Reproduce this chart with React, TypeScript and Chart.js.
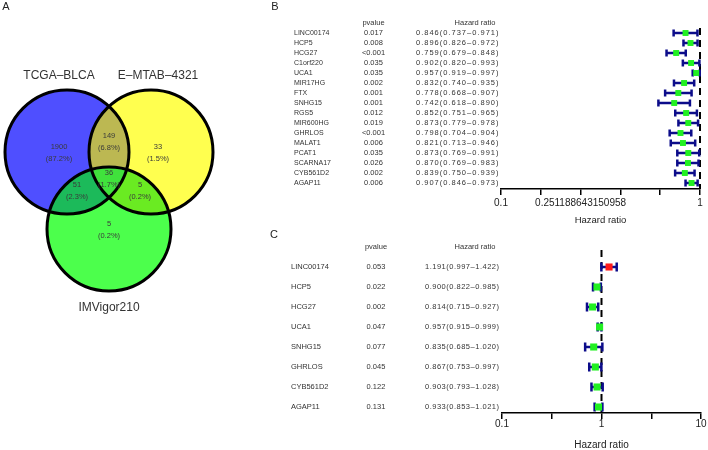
import React, { useEffect, useRef } from "react";
import { Chart, registerables } from "chart.js";

Chart.register(...registerables);

const FONT = "'Liberation Sans', Arial, Helvetica, sans-serif";
const TEXT = "#333333";
const NAVY = "#0c0c8a";
const GREEN = "#22f022";
const RED = "#ff1a1a";

// ---------------- Panel A: Venn data ----------------
const vennSetNames = ["TCGA–BLCA", "E–MTAB–4321", "IMVigor210"];
const vennRegionKeys = ["A", "B", "C", "AB", "AC", "BC", "ABC"];
const vennRegionCounts = [1900, 33, 5, 149, 51, 5, 36];

// ---------------- Panel B: univariate (training) ----------------
const genesB = ["LINC00174", "HCP5", "HCG27", "C1orf220", "UCA1", "MIR17HG", "FTX", "SNHG15", "RGS5", "MIR600HG", "GHRLOS", "MALAT1", "PCAT1", "SCARNA17", "CYB561D2", "AGAP11"];
const pvalB = ["0.017", "0.008", "<0.001", "0.035", "0.035", "0.002", "0.001", "0.001", "0.012", "0.019", "<0.001", "0.006", "0.035", "0.026", "0.002", "0.006"];
const hrB = [0.846, 0.896, 0.759, 0.902, 0.957, 0.832, 0.778, 0.742, 0.852, 0.873, 0.798, 0.821, 0.873, 0.870, 0.839, 0.907];
const lowB = [0.737, 0.826, 0.679, 0.820, 0.919, 0.740, 0.668, 0.618, 0.751, 0.779, 0.704, 0.713, 0.769, 0.769, 0.750, 0.846];
const highB = [0.971, 0.972, 0.848, 0.993, 0.997, 0.935, 0.907, 0.890, 0.965, 0.978, 0.904, 0.946, 0.991, 0.983, 0.939, 0.973];
const tickValsB = [0.1, 0.158489, 0.251188643150958, 0.398107, 0.630957, 1];
const tickLabelsB = ["0.1", "", "0.251188643150958", "", "", "1"];

// ---------------- Panel C: validation ----------------
const genesC = ["LINC00174", "HCP5", "HCG27", "UCA1", "SNHG15", "GHRLOS", "CYB561D2", "AGAP11"];
const pvalC = ["0.053", "0.022", "0.002", "0.047", "0.077", "0.045", "0.122", "0.131"];
const hrC = [1.191, 0.900, 0.814, 0.957, 0.835, 0.867, 0.903, 0.933];
const lowC = [0.997, 0.822, 0.715, 0.915, 0.685, 0.753, 0.793, 0.853];
const highC = [1.422, 0.985, 0.927, 0.999, 1.020, 0.997, 1.028, 1.021];
const tickValsC = [0.1, 0.316228, 1, 3.16228, 10];
const tickLabelsC = ["0.1", "", "1", "", "10"];

// ---------------- layout (not data) ----------------
const vennLayout = {
  circles: [[67, 152], [151, 152], [109, 229]],
  r: 62,
  setLabelPos: [[59, 76], [158, 76], [109, 308]],
  regionPos: [[59, 153], [158, 153], [109, 230], [109, 141.5], [77, 191], [140, 191], [109, 178.5]],
  fills: { A: "#4f4fff", B: "#ffff4f", C: "#4cff4c", AB: "#bcb852", AC: "#1cba5a", BC: "#6aeb22", ABC: "#40e23c" },
};

function vennPlugin() {
  return {
    id: "venn",
    afterDatasetsDraw(chart: any) {
      const { ctx, scales } = chart;
      const xs = scales.x, ys = scales.y;
      const px = (v: number) => xs.getPixelForValue(v);
      const py = (v: number) => ys.getPixelForValue(v);
      const rr = px(vennLayout.r) - px(0);
      const C = vennLayout.circles.map(([x, y]) => [px(x), py(y)]);
      const path = (i: number) => {
        const p = new Path2D();
        p.arc(C[i][0], C[i][1], rr, 0, Math.PI * 2);
        return p;
      };
      const F = vennLayout.fills;
      ctx.save();
      // singles
      ctx.fillStyle = F.A; ctx.fill(path(0));
      ctx.fillStyle = F.B; ctx.fill(path(1));
      ctx.fillStyle = F.C; ctx.fill(path(2));
      const inter = (clipIdx: number[], fillIdx: number, col: string) => {
        ctx.save();
        clipIdx.forEach((k) => ctx.clip(path(k)));
        ctx.fillStyle = col;
        ctx.fill(path(fillIdx));
        ctx.restore();
      };
      inter([0], 1, F.AB);
      inter([0], 2, F.AC);
      inter([1], 2, F.BC);
      inter([0, 1], 2, F.ABC);
      ctx.lineWidth = 3;
      ctx.strokeStyle = "#000";
      [0, 1, 2].forEach((i) => ctx.stroke(path(i)));

      // set labels
      ctx.fillStyle = TEXT;
      ctx.textAlign = "center";
      ctx.textBaseline = "middle";
      ctx.font = `12px ${FONT}`;
      vennSetNames.forEach((n, i) => {
        const [x, y] = vennLayout.setLabelPos[i];
        ctx.fillText(n, px(x), py(y));
      });
      // region labels
      const total = vennRegionCounts.reduce((a, b) => a + b, 0);
      ctx.font = `7.5px ${FONT}`;
      ctx.fillStyle = "#3a3a3a";
      vennRegionKeys.forEach((k, i) => {
        const [x, y] = vennLayout.regionPos[i];
        const c = vennRegionCounts[i];
        ctx.fillText(String(c), px(x), py(y) - 6);
        ctx.fillText(`(${((c / total) * 100).toFixed(1)}%)`, px(x), py(y) + 6);
      });
      // panel letter
      ctx.font = `11px ${FONT}`;
      ctx.fillStyle = "#222";
      ctx.fillText("A", 6, 7);
      ctx.restore();
    },
  };
}

type ForestOpts = {
  letter: string;
  letterPos: [number, number];
  genes: string[];
  pvals: string[];
  hr: number[];
  low: number[];
  high: number[];
  tickVals: number[];
  tickLabels: string[];
  xmin: number;
  xmax: number;
  ymin: number;
  ymax: number;
  padding: { left: number; right: number; top: number; bottom: number };
  scaleHeight: number;
  tickPad: number;
  titleSize: number;
  textX: { name: number; p: number; hr: number; hrHead: number };
  nameSize: number;
  pSize: number;
  hrSize: number;
  hrSpacing: string;
  capH: number;
  ptR: number;
  barW: number;
};

function forestConfig(o: ForestOpts): any {
  const plugin = {
    id: "forest",
    beforeDatasetsDraw(chart: any) {
      const { ctx, chartArea, scales } = chart;
      const x = scales.x, y = scales.y;
      ctx.save();
      const x1 = x.getPixelForValue(1);
      ctx.strokeStyle = "#000";
      ctx.lineWidth = 2;
      ctx.setLineDash([7, 5]);
      ctx.beginPath();
      ctx.moveTo(x1, chartArea.top);
      ctx.lineTo(x1, chartArea.bottom);
      ctx.stroke();
      ctx.setLineDash([]);
      ctx.strokeStyle = NAVY;
      ctx.lineWidth = o.barW;
      o.hr.forEach((_, i) => {
        const yy = y.getPixelForValue(i + 1);
        const a = x.getPixelForValue(o.low[i]);
        const b = x.getPixelForValue(o.high[i]);
        ctx.beginPath();
        ctx.moveTo(a, yy);
        ctx.lineTo(b, yy);
        ctx.moveTo(a, yy - o.capH);
        ctx.lineTo(a, yy + o.capH);
        ctx.moveTo(b, yy - o.capH);
        ctx.lineTo(b, yy + o.capH);
        ctx.stroke();
      });
      ctx.restore();
    },
    afterDraw(chart: any) {
      const { ctx, scales } = chart;
      const y = scales.y;
      ctx.save();
      ctx.fillStyle = TEXT;
      ctx.textBaseline = "middle";
      const yh = y.getPixelForValue(0);
      ctx.font = `${o.pSize}px ${FONT}`;
      ctx.textAlign = "center";
      ctx.fillText("pvalue", o.textX.p, yh);
      ctx.font = `${o.hrSize}px ${FONT}`;
      ctx.fillText("Hazard ratio", o.textX.hrHead, yh);
      o.genes.forEach((g, i) => {
        const yy = y.getPixelForValue(i + 1);
        ctx.textAlign = "left";
        ctx.font = `${o.nameSize}px ${FONT}`;
        ctx.fillText(g, o.textX.name, yy);
        ctx.textAlign = "center";
        ctx.font = `${o.pSize}px ${FONT}`;
        ctx.fillText(o.pvals[i], o.textX.p, yy);
        ctx.textAlign = "left";
        ctx.font = `${o.hrSize}px ${FONT}`;
        (ctx as any).letterSpacing = o.hrSpacing;
        ctx.fillText(`${o.hr[i].toFixed(3)}(${o.low[i].toFixed(3)}–${o.high[i].toFixed(3)})`, o.textX.hr, yy);
        (ctx as any).letterSpacing = "0px";
      });
      ctx.textAlign = "center";
      ctx.font = `11px ${FONT}`;
      ctx.fillStyle = "#222";
      ctx.fillText(o.letter, o.letterPos[0], o.letterPos[1]);
      ctx.restore();
    },
  };

  return {
    type: "scatter",
    data: {
      datasets: [
        {
          data: o.hr.map((v, i) => ({ x: v, y: i + 1 })),
          pointStyle: "rect",
          pointRadius: o.ptR,
          pointBorderWidth: 0,
          borderWidth: 0,
          backgroundColor: o.hr.map((v) => (v > 1 ? RED : GREEN)),
        },
      ],
    },
    options: {
      responsive: false,
      animation: false,
      events: [],
      layout: { padding: o.padding },
      plugins: { legend: { display: false }, tooltip: { enabled: false } },
      scales: {
        x: {
          type: "logarithmic",
          min: o.xmin,
          max: o.xmax,
          position: "bottom",
          afterBuildTicks: (s: any) => {
            s.ticks = o.tickVals.map((value) => ({ value }));
          },
          afterFit: (s: any) => {
            s.height = o.scaleHeight;
          },
          ticks: {
            autoSkip: false,
            maxRotation: 0,
            minRotation: 0,
            padding: o.tickPad,
            color: "#222",
            font: { size: 10, family: FONT, lineHeight: 1 },
            callback: (_v: any, i: number) => o.tickLabels[i],
          },
          grid: {
            drawOnChartArea: false,
            drawTicks: true,
            tickLength: 6,
            color: "#000",
            lineWidth: 1.5,
          },
          border: { display: true, color: "#000", width: 1.5 },
          title: {
            display: true,
            text: "Hazard ratio",
            color: "#222",
            font: { size: o.titleSize, family: FONT, lineHeight: 1 },
            padding: { top: 0, bottom: 0 },
          },
        },
        y: {
          type: "linear",
          min: o.ymin,
          max: o.ymax,
          reverse: true,
          display: false,
        },
      },
    },
    plugins: [plugin],
  };
}

function ChartCanvas({ config, left, top, width, height }: any) {
  const ref = useRef<HTMLCanvasElement | null>(null);
  useEffect(() => {
    if (!ref.current) return;
    const ch = new Chart(ref.current, config);
    return () => ch.destroy();
  }, []);
  return (
    <canvas
      ref={ref}
      width={width}
      height={height}
      style={{ position: "absolute", left, top, width, height }}
    />
  );
}

export default function App() {
  const vennConfig: any = {
    type: "scatter",
    data: {
      datasets: [
        {
          data: vennLayout.circles.map(([x, y]) => ({ x, y })),
          pointRadius: 0,
        },
      ],
    },
    options: {
      responsive: false,
      animation: false,
      events: [],
      layout: { padding: 0 },
      plugins: { legend: { display: false }, tooltip: { enabled: false } },
      scales: {
        x: { type: "linear", min: 0, max: 270, display: false },
        y: { type: "linear", min: 0, max: 330, reverse: true, display: false },
      },
    },
    plugins: [vennPlugin()],
  };

  const cfgB = forestConfig({
    letter: "B",
    letterPos: [5, 7],
    genes: genesB,
    pvals: pvalB,
    hr: hrB,
    low: lowB,
    high: highB,
    tickVals: tickValsB,
    tickLabels: tickLabelsB,
    xmin: 0.1,
    xmax: 1,
    ymin: 0.5,
    ymax: 16.6,
    padding: { left: 231, right: 8, top: 28, bottom: 5.25 },
    scaleHeight: 35.75,
    tickPad: 3,
    titleSize: 9.5,
    textX: { name: 24, p: 103.5, hr: 146, hrHead: 205 },
    nameSize: 7,
    pSize: 7.5,
    hrSize: 7.5,
    hrSpacing: "1px",
    capH: 3.5,
    ptR: 4.2,
    barW: 2.5,
  });

  const cfgC = forestConfig({
    letter: "C",
    letterPos: [4, 4.5],
    genes: genesC,
    pvals: pvalC,
    hr: hrC,
    low: lowC,
    high: highC,
    tickVals: tickValsC,
    tickLabels: tickLabelsC,
    xmin: 0.1,
    xmax: 10,
    ymin: 0.15,
    ymax: 8.3,
    padding: { left: 232, right: 7, top: 20, bottom: 1 },
    scaleHeight: 37,
    tickPad: 0,
    titleSize: 10,
    textX: { name: 21, p: 106, hr: 155, hrHead: 205 },
    nameSize: 7.5,
    pSize: 7.5,
    hrSize: 7.5,
    hrSpacing: "0.5px",
    capH: 4.5,
    ptR: 5,
    barW: 2.5,
  });

  return (
    <div
      style={{
        position: "absolute",
        left: 0,
        top: 0,
        width: 708,
        height: 450,
        background: "#fff",
        overflow: "hidden",
      }}
    >
      <ChartCanvas config={vennConfig} left={0} top={0} width={270} height={330} />
      <ChartCanvas config={cfgB} left={270} top={0} width={438} height={230} />
      <ChartCanvas config={cfgC} left={270} top={230} width={438} height={221} />
    </div>
  );
}
